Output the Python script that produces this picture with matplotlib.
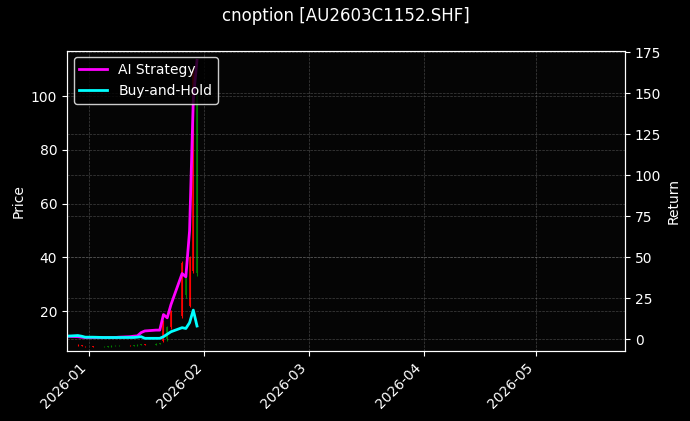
import matplotlib
matplotlib.use("Agg")
import matplotlib.pyplot as plt
import matplotlib.dates as mdates
import pandas as pd

dates = pd.to_datetime([
    "2025-12-26", "2025-12-29", "2025-12-30", "2025-12-31", "2026-01-02",
    "2026-01-05", "2026-01-06", "2026-01-07", "2026-01-08", "2026-01-09",
    "2026-01-12", "2026-01-13", "2026-01-14", "2026-01-15", "2026-01-16",
    "2026-01-19", "2026-01-20", "2026-01-21", "2026-01-22", "2026-01-23",
    "2026-01-26", "2026-01-27", "2026-01-28", "2026-01-29", "2026-01-30",
])
ai_ret = [1.8, 1.5, 1.2, 1.0, 1.0, 1.0, 1.0, 1.0, 1.0, 1.2, 1.5, 1.8, 2.0, 4.0, 5.0,
          5.5, 5.5, 15, 13, 21, 40, 38, 66, 146, 170]
bh_ret = [1.8, 2.2, 1.8, 1.2, 1.2, 1.0, 1.0, 1.0, 1.0, 1.0, 1.0, 1.0, 1.2, 1.5, 0.5,
          0.5, 0.5, 1.5, 3.0, 4.5, 7.0, 6.5, 10, 17.7, 8.0]
opens = [7.2, 7.4, 7.3, 7.0, 6.9, 6.8, 6.8, 6.9, 7.0, 7.0, 7.1, 7.0, 7.2, 7.4, 7.6,
         7.5, 7.8, 16, 9.5, 20, 38, 26, 40, 110, 34]
closes = [7.4, 7.3, 7.0, 6.9, 6.8, 6.8, 6.9, 7.0, 7.0, 7.1, 7.0, 7.2, 7.4, 7.6, 7.5,
          7.8, 8.0, 9.0, 14, 14, 18, 33, 22, 35, 100]
highs = [7.6, 7.6, 7.5, 7.1, 7.0, 7.0, 7.1, 7.2, 7.2, 7.3, 7.3, 7.4, 7.6, 7.8, 7.8,
         8.0, 8.2, 16.5, 14.5, 20.5, 38.5, 33.5, 40.5, 111, 101]
lows = [7.0, 7.1, 6.9, 6.8, 6.7, 6.6, 6.7, 6.8, 6.9, 6.9, 6.9, 6.9, 7.1, 7.3, 7.3,
        7.4, 7.6, 8.5, 9.0, 13.5, 17.5, 25, 21.5, 34, 33]

plt.style.use("dark_background")
fig, ax = plt.subplots(figsize=(6.9, 4.21), dpi=100)
fig.patch.set_facecolor("black")
ax.set_facecolor("#050505")

for d, o, c, h, l in zip(dates, opens, closes, highs, lows):
    col = "green" if c >= o else "red"
    ax.vlines(d, l, h, color=col, lw=0.8)
    ax.vlines(d, min(o, c), max(o, c), color=col, lw=1.2)

ax.set_ylim(5.1, 117)
ax.set_xlim(pd.Timestamp("2025-12-26 02:00"), pd.Timestamp("2026-05-24 22:00"))
ax.set_ylabel("Price")
ax.grid(True, ls="--", lw=0.5, color="gray", alpha=0.5)
ax.xaxis.set_major_locator(mdates.MonthLocator())
ax.xaxis.set_major_formatter(mdates.DateFormatter("%Y-%m"))
plt.setp(ax.get_xticklabels(), rotation=45, ha="right")

ax2 = ax.twinx()
ax2.plot(dates, ai_ret, color="magenta", lw=2, label="AI Strategy")
ax2.plot(dates, bh_ret, color="cyan", lw=2, label="Buy-and-Hold")
ax2.set_ylim(-7.3, 176)
ax2.set_ylabel("Return")
ax2.grid(True, ls="--", lw=0.5, color="gray", alpha=0.5)
leg = ax2.legend(loc="upper left", facecolor="black", edgecolor="white", framealpha=0.8)

ax.set_title("cnoption [AU2603C1152.SHF]", pad=21)
fig.subplots_adjust(left=0.097, right=0.906, top=0.88, bottom=0.166)
fig.savefig("out.png", dpi=100, facecolor=fig.get_facecolor())
